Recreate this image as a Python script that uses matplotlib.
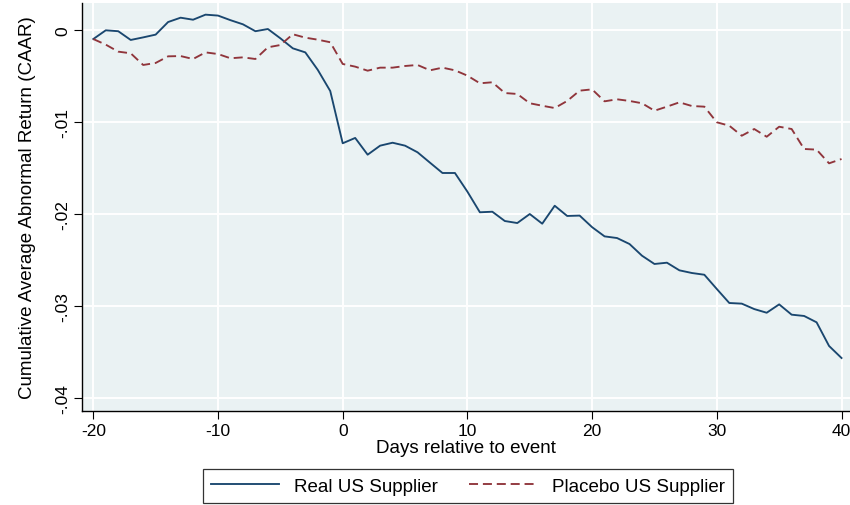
import matplotlib
matplotlib.use("Agg")
import matplotlib.pyplot as plt
from matplotlib.lines import Line2D

plt.rcParams['font.family'] = ['Liberation Sans', 'DejaVu Sans']
plt.rcParams['lines.scale_dashes'] = False

days = list(range(-20, 41))

real_caar = [
    -0.00095, 0.0000, -0.0001, -0.00105, -0.00077, -0.00047, 0.0009, 0.00137,
    0.00115, 0.0017, 0.0016, 0.0011, 0.00065, -0.0001, 0.00014, -0.00087,
    -0.00196, -0.0024, -0.0043, -0.0066,
    -0.01228, -0.0117, -0.01352, -0.01254, -0.01222, -0.01254, -0.01326,
    -0.01439, -0.01551, -0.01551, -0.01754, -0.01978, -0.01972, -0.02073,
    -0.02095, -0.01997, -0.02102, -0.01907, -0.02018, -0.02014,
    -0.0214, -0.0224, -0.02258, -0.02323, -0.0245, -0.0254, -0.02526,
    -0.02609, -0.02638, -0.02657, -0.02812, -0.02964, -0.02971, -0.0303,
    -0.0307, -0.02979, -0.03091, -0.03105, -0.03174, -0.03431, -0.03562,
]

placebo_caar = [
    -0.00095, -0.00156, -0.00232, -0.0025, -0.00377, -0.00355, -0.00283,
    -0.0028, -0.00312, -0.0024, -0.00258, -0.00304, -0.00294, -0.00312,
    -0.00185, -0.0016, -0.00043, -0.0008, -0.00102, -0.0013,
    -0.00366, -0.00395, -0.00439, -0.00406, -0.00406, -0.00388, -0.00377,
    -0.00435, -0.00406, -0.00435, -0.00493, -0.00576, -0.00565, -0.00682,
    -0.00692, -0.00793, -0.0082, -0.00845, -0.00768, -0.00656,
    -0.00642, -0.00772, -0.0075, -0.00768, -0.00793, -0.00874, -0.0083,
    -0.00783, -0.00823, -0.0083, -0.0100, -0.01037, -0.01146, -0.01073,
    -0.01157, -0.01048, -0.01073, -0.0129, -0.01297, -0.01446, -0.01399,
]

x_ticks = [-20, -10, 0, 10, 20, 30, 40]
y_ticks = [0, -0.01, -0.02, -0.03, -0.04]
y_tick_labels = ["0", "-.01", "-.02", "-.03", "-.04"]

navy = "#1a476f"
maroon = "#90353b"
plot_bg = "#eaf2f3"
dash_pattern = (6.5, 3.5)
line_w = 1.35

W, H = 850, 506
fig = plt.figure(figsize=(W / 100, H / 100), dpi=100)
ax = fig.add_axes([82 / W, 1 - 412 / H, (850 - 82) / W, (412 - 4) / H])
ax.set_facecolor(plot_bg)

ax.plot(days, real_caar, color=navy, lw=line_w)
ax.plot(days, placebo_caar, color=maroon, lw=line_w, dashes=dash_pattern)

ax.set_xlim(-20.906, 40.68)
ax.set_ylim(-0.04138, 0.002967)
ax.set_xticks(x_ticks)
ax.set_xticklabels([str(v) for v in x_ticks])
ax.set_yticks(y_ticks)
ax.set_yticklabels(y_tick_labels, rotation=90, va='center')

ax.grid(True, color='white', lw=1.4)
ax.set_axisbelow(True)
for side in ('top', 'right'):
    ax.spines[side].set_visible(False)
for side in ('left', 'bottom'):
    ax.spines[side].set_color('black')
    ax.spines[side].set_linewidth(1.0)

ax.tick_params(axis='both', direction='out', length=5.5, width=0.8,
               labelsize=12.5, pad=3)
ax.set_xlabel("Days relative to event", fontsize=13.5, labelpad=1)
ax.set_ylabel("Cumulative Average Abnormal Return (CAAR)", fontsize=13.5,
              labelpad=14)

handles = [
    Line2D([], [], color=navy, lw=line_w),
    Line2D([], [], color=maroon, lw=line_w, dashes=dash_pattern),
]
leg = fig.legend(handles, ["Real US Supplier", "Placebo US Supplier"],
                 loc='center', bbox_to_anchor=(468 / W, 1 - 487 / H),
                 ncol=2, frameon=True, fancybox=False, fontsize=13.5,
                 handlelength=3.6, columnspacing=1.7, handletextpad=0.8,
                 borderpad=0.45)
leg.get_frame().set_edgecolor('black')
leg.get_frame().set_linewidth(0.9)

fig.savefig("out.png", dpi=100, facecolor='white')
